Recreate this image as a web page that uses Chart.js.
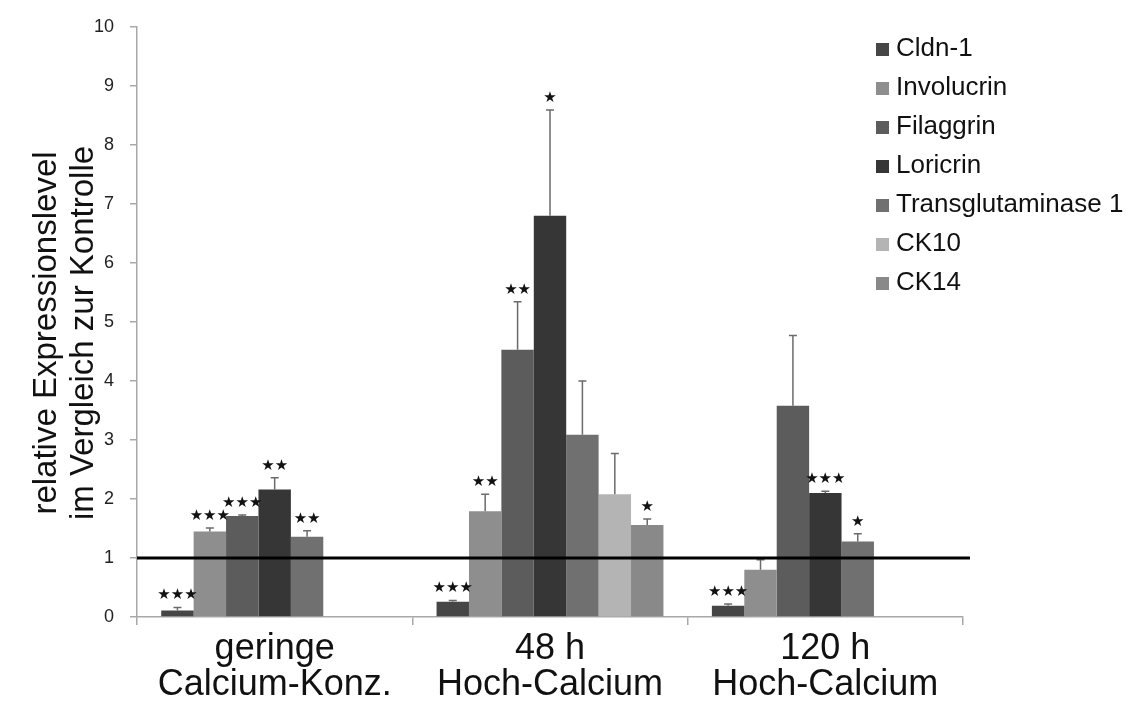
<!DOCTYPE html>
<html>
<head>
<meta charset="utf-8">
<script src="https://cdn.jsdelivr.net/npm/chart.js@4.4.1/dist/chart.umd.min.js"></script>
<style>
  body { margin: 0; background: #fff; }
</style>
</head>
<body>
<canvas id="chart" width="1132" height="705"></canvas>
<script>
const categories = [['geringe', 'Calcium-Konz.'], ['48 h', 'Hoch-Calcium'], ['120 h', 'Hoch-Calcium']];
const seriesNames = ['Cldn-1', 'Involucrin', 'Filaggrin', 'Loricrin', 'Transglutaminase 1', 'CK10', 'CK14'];
const seriesColors = ['#464646', '#8e8e8e', '#5c5c5c', '#363636', '#707070', '#b4b4b4', '#898989'];

// mean expression relative to control
const cldn1 = [0.11, 0.26, 0.19];
const involucrin = [1.45, 1.79, 0.80];
const filaggrin = [1.71, 4.53, 3.58];
const loricrin = [2.16, 6.80, 2.10];
const transglut = [1.36, 3.09, 1.28];
const ck10 = [null, 2.08, null];
const ck14 = [null, 1.56, null];

// upper error bars
const cldn1Err = [0.05, 0.02, 0.03];
const involucrinErr = [0.06, 0.29, 0.17];
const filaggrinErr = [0.02, 0.81, 1.19];
const loricrinErr = [0.20, 1.79, 0.03];
const transglutErr = [0.10, 0.91, 0.13];
const ck10Err = [null, 0.69, null];
const ck14Err = [null, 0.10, null];

// significance stars
const cldn1Sig = ['***', '***', '***'];
const involucrinSig = ['***', '**', ''];
const filaggrinSig = ['***', '**', ''];
const loricrinSig = ['**', '*', '***'];
const transglutSig = ['**', '', '*'];
const ck10Sig = ['', '', ''];
const ck14Sig = ['', '*', ''];

const controlLevel = 1;
const yTitle = ['relative Expressionslevel', 'im Vergleich zur Kontrolle'];

const values = [cldn1, involucrin, filaggrin, loricrin, transglut, ck10, ck14];
const errors = [cldn1Err, involucrinErr, filaggrinErr, loricrinErr, transglutErr, ck10Err, ck14Err];
const stars = [cldn1Sig, involucrinSig, filaggrinSig, loricrinSig, transglutSig, ck10Sig, ck14Sig];

const datasets = seriesNames.map((name, i) => ({
  label: name,
  data: values[i],
  err: errors[i],
  sig: stars[i],
  backgroundColor: seriesColors[i],
  borderWidth: 0,
  barPercentage: 1,
  categoryPercentage: 0.824
}));

// error bars, stars, control line, legend and y title
const extras = {
  id: 'extras',
  afterDatasetsDraw(chart) {
    const ctx = chart.ctx;
    const y = chart.scales.y;
    const area = chart.chartArea;
    chart.data.datasets.forEach((ds, di) => {
      const meta = chart.getDatasetMeta(di);
      meta.data.forEach((bar, i) => {
        const v = ds.data[i];
        if (v == null) return;
        const top = y.getPixelForValue(v + ds.err[i]);
        ctx.save();
        ctx.strokeStyle = '#6b6b6b';
        ctx.lineWidth = 1.5;
        ctx.beginPath();
        ctx.moveTo(bar.x, bar.y);
        ctx.lineTo(bar.x, top);
        ctx.moveTo(bar.x - 4, top);
        ctx.lineTo(bar.x + 4, top);
        ctx.stroke();
        if (ds.sig[i]) {
          ctx.fillStyle = '#111';
          ctx.font = '15px "DejaVu Sans"';
          ctx.textAlign = 'center';
          ctx.textBaseline = 'middle';
          ctx.fillText('\u2605'.repeat(ds.sig[i].length), bar.x, top - 12);
        }
        ctx.restore();
      });
    });
    const y1 = y.getPixelForValue(controlLevel);
    ctx.save();
    ctx.strokeStyle = '#000';
    ctx.lineWidth = 3;
    ctx.beginPath();
    ctx.moveTo(area.left, y1);
    ctx.lineTo(area.right + 7, y1);
    ctx.stroke();
    ctx.restore();
  },
  afterDraw(chart) {
    const ctx = chart.ctx;
    ctx.save();
    // legend
    ctx.font = '26px "Liberation Sans", Arial, sans-serif';
    ctx.textBaseline = 'middle';
    ctx.textAlign = 'left';
    chart.data.datasets.forEach((ds, i) => {
      const cy = 49 + i * 39;
      ctx.fillStyle = ds.backgroundColor;
      ctx.fillRect(876, cy - 6, 13, 13);
      ctx.fillStyle = '#111';
      ctx.fillText(ds.label, 896, cy);
    });
    // y axis title
    ctx.translate(0, 333);
    ctx.rotate(-Math.PI / 2);
    ctx.font = '33px "Liberation Sans", Arial, sans-serif';
    ctx.textAlign = 'center';
    ctx.fillText(yTitle[0], 0, 47);
    ctx.fillText(yTitle[1], 0, 84);
    ctx.restore();
  }
};

const ctx = document.getElementById('chart').getContext('2d');
new Chart(ctx, {
  type: 'bar',
  data: { labels: categories, datasets: datasets },
  options: {
    responsive: false,
    animation: false,
    layout: { padding: { top: 22, right: 169, left: 0, bottom: 0 } },
    plugins: { legend: { display: false }, tooltip: { enabled: false } },
    scales: {
      x: {
        afterFit: (scale) => { scale.height = 88; },
        grid: { drawOnChartArea: false, tickLength: 8, color: '#a8a8a8', lineWidth: 1.5 },
        border: { color: '#a8a8a8', width: 1.5 },
        ticks: {
          color: '#111',
          padding: 6,
          font: { family: '"Liberation Sans", Arial, sans-serif', size: 36, lineHeight: 1.0 }
        }
      },
      y: {
        min: 0,
        max: 10,
        afterFit: (scale) => { scale.width = 137; },
        grid: { drawOnChartArea: false, tickLength: 7, color: '#a8a8a8', lineWidth: 1.5 },
        border: { color: '#a8a8a8', width: 1.5 },
        ticks: {
          stepSize: 1,
          color: '#222',
          padding: 16,
          font: { family: '"Liberation Sans", Arial, sans-serif', size: 18 }
        }
      }
    }
  },
  plugins: [extras]
});
</script>
</body>
</html>
